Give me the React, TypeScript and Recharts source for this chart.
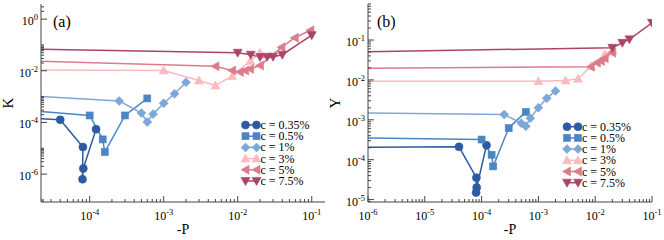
import React from "react";
import { LineChart, Line, XAxis, YAxis } from "recharts";

const FONT = "'Liberation Serif', 'Times New Roman', serif";
const AXIS = "#444";

// concentrations / legend
const NAMES = ["c = 0.35%", "c = 0.5%", "c = 1%", "c = 3%", "c = 5%", "c = 7.5%"];
const COLORS = ["#2d5ba3", "#4a86c6", "#7ca8d7", "#fbbabe", "#de7b8b", "#ab4466"];
const SHAPES = ["circle", "square", "diamond", "up", "left", "down"];

// -P values (first point = P -> 0, outside the visible range)
const P_035 = [1e-6, 4.0e-5, 8.1e-5, 8.0e-5, 8.2e-5, 1.22e-4];
const P_05 = [1e-6, 1.0e-4, 1.5e-4, 1.6e-4, 3.0e-4, 6.0e-4];
const P_1 = [1e-6, 2.5e-4, 5.0e-4, 6.0e-4, 7.2e-4, 1.0e-3, 1.4e-3, 2.0e-3];
const P_3 = [1e-6, 1.0e-3, 3.0e-3, 5.0e-3, 8.4e-3, 1.48e-2, 2.0e-2];
const P_5A = [1e-6, 5.0e-3, 8.4e-3, 1.07e-2, 1.26e-2, 1.47e-2, 2.0e-2, 3.9e-2, 5.9e-2, 9.6e-2];
const P_5B = [1e-6, 8.4e-3, 1.07e-2, 1.26e-2, 1.47e-2, 2.0e-2];
const P_75A = [1e-6, 1.0e-2, 1.5e-2, 2.0e-2, 2.5e-2, 3.0e-2, 4.0e-2, 1.0e-1];
const P_75B = [1e-6, 2.0e-2, 3.0e-2, 4.0e-2, 1.0e-1];

// panel (a): K
const K_035 = [2.2e-4, 1.26e-4, 1.12e-5, 6.3e-7, 1.65e-6, 5.5e-5];
const K_05 = [5.5e-4, 1.86e-4, 2.2e-5, 7.1e-6, 1.86e-4, 8.5e-4];
const K_1 = [1.66e-3, 6.8e-4, 2.3e-4, 1.04e-4, 2.1e-4, 5.5e-4, 1.29e-3, 3.6e-3];
const K_3 = [1.1e-2, 1.03e-2, 4.2e-3, 2.7e-3, 6.2e-3, 2.4e-2, 5.0e-2];
const K_5 = [3.05e-2, 1.5e-2, 1.02e-2, 8.9e-3, 1.02e-2, 1.18e-2, 1.6e-2, 8.1e-2, 0.19, 0.37];
const K_75 = [7.9e-2, 5.0e-2, 4.2e-2, 3.4e-2, 3.5e-2, 3.5e-2, 4.2e-2, 0.24];

// panel (b): Y
const Y_035 = [2.05e-4, 2.1e-4, 3.55e-5, 1.5e-5, 2.0e-5, 2.3e-4];
const Y_05 = [3.5e-4, 3.2e-4, 1.33e-4, 6.8e-5, 6.2e-4, 1.58e-3];
const Y_1 = [1.48e-3, 1.36e-3, 8.2e-4, 6.9e-4, 1.1e-3, 2.0e-3, 3.45e-3, 5.3e-3];
const Y_3 = [9.3e-3, 9.3e-3, 9.7e-3, 1.07e-2, 2.2e-2, 4.4e-2, 5.6e-2];
const Y_5 = [1.95e-2, 2.14e-2, 2.7e-2, 3.0e-2, 3.5e-2, 4.8e-2];
const Y_75 = [5.1e-2, 6.4e-2, 8.5e-2, 0.104, 0.27];

// axes
const XDOM_A: [number, number] = [2.2e-5, 0.151];
const YDOM_A: [number, number] = [8.3e-8, 3.85];
const XDOM_B: [number, number] = [1e-6, 1e-1];
const YDOM_B: [number, number] = [8.7e-6, 0.8];
const XMAJ_A = [1e-4, 1e-3, 1e-2, 1e-1];
const YMAJ_A = [1e-6, 1e-4, 1e-2, 1];
const XMAJ_B = [1e-6, 1e-5, 1e-4, 1e-3, 1e-2, 1e-1];
const YMAJ_B = [1e-5, 1e-4, 1e-3, 1e-2, 1e-1];

// log ticks: k * 10^n for every n in decades
const logTicks = (decades: number[], ks: number[], dom: [number, number]) => {
    const out: number[] = [];
    decades.forEach(n => ks.forEach(k => {
        const v = k * Math.pow(10, n);
        if (v >= dom[0] && v <= dom[1]) out.push(v);
    }));
    return out;
};
const K_ALL = [1, 2, 3, 4, 5, 6, 7, 8, 9];
const XT_A = logTicks([-5, -4, -3, -2, -1], K_ALL, XDOM_A);
const YT_A = logTicks([-8, -6, -4, -2, 0], [1, 2, 3, 4, 5, 6, 7, 8, 9, 10], YDOM_A);
const XT_B = logTicks([-6, -5, -4, -3, -2, -1], K_ALL, XDOM_B);
const YT_B = logTicks([-6, -5, -4, -3, -2, -1], K_ALL, YDOM_B);

const isMajor = (v: number, major: number[]) => major.some(m => Math.abs(Math.log10(v) - Math.log10(m)) < 1e-6);

function Marker({ shape, x, y, color }: { shape: string; x: number; y: number; color: string }) {
    const p = { fill: color, stroke: color, strokeWidth: 0.6 };
    if (shape === "circle") return <circle cx={x} cy={y} r={4} {...p} />;
    if (shape === "square") return <rect x={x - 3.5} y={y - 3.5} width={7} height={7} {...p} />;
    let pts: number[][] = [];
    if (shape === "diamond") pts = [[0, -4.5], [4.5, 0], [0, 4.5], [-4.5, 0]];
    if (shape === "up") pts = [[0, -4.5], [4.5, 3.5], [-4.5, 3.5]];
    if (shape === "left") pts = [[-4.5, 0], [3.5, -4.5], [3.5, 4.5]];
    if (shape === "down") pts = [[0, 4.5], [4.5, -3.5], [-4.5, -3.5]];
    return <polygon points={pts.map(([a, b]) => `${x + a},${y + b}`).join(" ")} {...p} />;
}

function Pow10({ x, y, v, anchor }: { x: number; y: number; v: number; anchor: "middle" | "end" }) {
    const e = Math.round(Math.log10(v));
    return (
        <text x={x} y={y} textAnchor={anchor} fontFamily={FONT} fontSize={12} fill="#000">
            10<tspan dy={-5} fontSize={8.5}>{e}</tspan>
        </text>
    );
}

const makeTick = (side: string, major: number[], labels: boolean) => (props: any) => {
    const { x, y, payload } = props;
    const v = payload.value;
    const maj = isMajor(v, major);
    const len = maj ? 6 : 3;
    let line = null;
    if (side === "bottom") line = <line x1={x} y1={y} x2={x} y2={y - len} stroke={AXIS} />;
    if (side === "top") line = <line x1={x} y1={y} x2={x} y2={y + len} stroke={AXIS} />;
    if (side === "left") line = <line x1={x} y1={y} x2={x + len} y2={y} stroke={AXIS} />;
    if (side === "right") line = <line x1={x} y1={y} x2={x - len} y2={y} stroke={AXIS} />;
    return (
        <g>
            {line}
            {labels && maj && side === "bottom" && <Pow10 x={x} y={y + 18} v={v} anchor="middle" />}
            {labels && maj && side === "left" && <Pow10 x={x - 3} y={y + 6} v={v} anchor="end" />}
        </g>
    );
};

const dotFor = (shape: string, color: string) => (props: any) => {
    const { cx, cy, index } = props;
    if (index === 0 || cx == null || cy == null) return <g key={`d${index}`} />;
    return <g key={`d${index}`}><Marker shape={shape} x={cx} y={cy} color={color} /></g>;
};

const toData = (p: number[], v: number[]) => p.map((x, i) => ({ p: x, v: v[i] }));

const SERIES_A = [
    toData(P_035, K_035), toData(P_05, K_05), toData(P_1, K_1),
    toData(P_3, K_3), toData(P_5A, K_5), toData(P_75A, K_75),
];
const SERIES_B = [
    toData(P_035, Y_035), toData(P_05, Y_05), toData(P_1, Y_1),
    toData(P_3, Y_3), toData(P_5B, Y_5), toData(P_75B, Y_75),
];

interface PanelProps {
    series: { p: number; v: number }[][];
    xdom: [number, number];
    ydom: [number, number];
    xt: number[];
    yt: number[];
    xmaj: number[];
    ymaj: number[];
    yw: number;
    right: number;
}

function Panel({ series, xdom, ydom, xt, yt, xmaj, ymaj, yw, right }: PanelProps) {
    return (
        <LineChart width={332} height={240} margin={{ top: 4, right, bottom: 0, left: 0 }}>
            <XAxis xAxisId="b" dataKey="p" type="number" scale="log" domain={xdom} allowDataOverflow
                ticks={xt} interval={0} height={38} tickSize={0} tickMargin={0} tickLine={false}
                axisLine={{ stroke: AXIS }} tick={makeTick("bottom", xmaj, true)} />
            <XAxis xAxisId="t" orientation="top" dataKey="p" type="number" scale="log" domain={xdom} allowDataOverflow
                ticks={xt} interval={0} height={0} tickSize={0} tickMargin={0} tickLine={false}
                axisLine={{ stroke: AXIS }} tick={makeTick("top", xmaj, false)} />
            <YAxis yAxisId="l" type="number" scale="log" domain={ydom} allowDataOverflow
                ticks={yt} interval={0} width={yw} tickSize={0} tickMargin={0} tickLine={false}
                axisLine={{ stroke: AXIS }} tick={makeTick("left", ymaj, true)} />
            <YAxis yAxisId="r" orientation="right" type="number" scale="log" domain={ydom} allowDataOverflow
                ticks={yt} interval={0} width={0} tickSize={0} tickMargin={0} tickLine={false}
                axisLine={{ stroke: AXIS }} tick={makeTick("right", ymaj, false)} />
            {series.map((d, i) => (
                <Line key={NAMES[i]} data={d} dataKey="v" xAxisId="b" yAxisId="l" type="linear"
                    stroke={COLORS[i]} strokeWidth={1.5} dot={dotFor(SHAPES[i], COLORS[i])}
                    activeDot={false} isAnimationActive={false} />
            ))}
        </LineChart>
    );
}

function LegendBox({ x, y }: { x: number; y: number }) {
    return (
        <g>
            {NAMES.map((n, i) => {
                const yy = y + i * 11.2;
                return (
                    <g key={n}>
                        <line x1={x} y1={yy} x2={x + 11} y2={yy} stroke={COLORS[i]} strokeWidth={1.5} />
                        <Marker shape={SHAPES[i]} x={x} y={yy} color={COLORS[i]} />
                        <Marker shape={SHAPES[i]} x={x + 11} y={yy} color={COLORS[i]} />
                        <text x={x + 15} y={yy + 4} fontFamily={FONT} fontSize={12} fill="#000">{n}</text>
                    </g>
                );
            })}
        </g>
    );
}

export default function App() {
    return (
        <div style={{ position: "absolute", left: 0, top: 0, width: 664, height: 240, background: "#fff" }}>
            <div style={{ position: "absolute", left: 0, top: 0 }}>
                <Panel series={SERIES_A} xdom={XDOM_A} ydom={YDOM_A} xt={XT_A} yt={YT_A}
                    xmaj={XMAJ_A} ymaj={YMAJ_A} yw={41} right={7} />
            </div>
            <div style={{ position: "absolute", left: 332, top: 0 }}>
                <Panel series={SERIES_B} xdom={XDOM_B} ydom={YDOM_B} xt={XT_B} yt={YT_B}
                    xmaj={XMAJ_B} ymaj={YMAJ_B} yw={36} right={12} />
            </div>
            <svg width={664} height={240} style={{ position: "absolute", left: 0, top: 0, pointerEvents: "none" }}>
                <text x={53} y={27} fontFamily={FONT} fontSize={16}>(a)</text>
                <text x={377} y={27} fontFamily={FONT} fontSize={16}>(b)</text>
                <text x={183} y={234} textAnchor="middle" fontFamily={FONT} fontSize={14}>-P</text>
                <text x={510} y={234} textAnchor="middle" fontFamily={FONT} fontSize={14}>-P</text>
                <text x={13} y={103} textAnchor="middle" fontFamily={FONT} fontSize={15} transform="rotate(-90 13 103)">K</text>
                <text x={340} y={103} textAnchor="middle" fontFamily={FONT} fontSize={15} transform="rotate(-90 340 103)">Y</text>
                <LegendBox x={245.5} y={125} />
                <LegendBox x={567} y={126.7} />
            </svg>
        </div>
    );
}
